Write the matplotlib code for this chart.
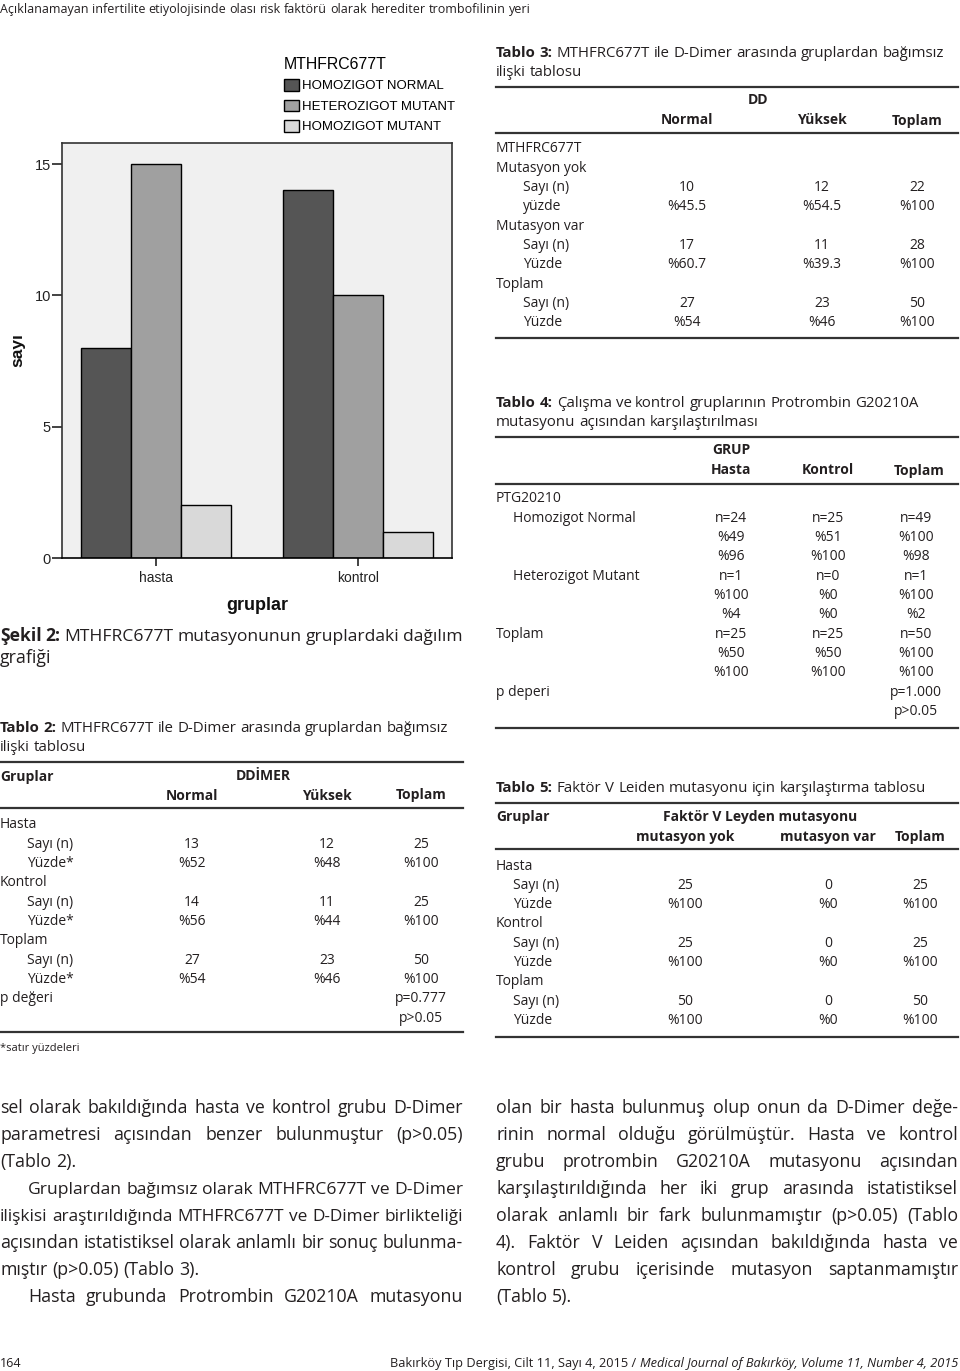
import matplotlib
matplotlib.use('Agg')
import matplotlib.pyplot as plt
from matplotlib.lines import Line2D
import numpy as np

W, H = 960, 1371
FONT = 'Open Sans'
CFONT = 'Liberation Sans'
INK = '#231f20'

# ---------------- chart data ----------------
groups = ['hasta', 'kontrol']
genotypes = ['HOMOZIGOT NORMAL', 'HETEROZIGOT MUTANT', 'HOMOZIGOT MUTANT']
homozigot_normal = [8, 14]
heterozigot_mutant = [15, 10]
homozigot_mutant = [2, 1]
y_ticks = [0, 5, 10, 15]
bar_colors = ['#555555', '#a0a0a0', '#d9d9d9']

# ---------------- table data ----------------
t2_cols = ['Normal', 'Yüksek', 'Toplam']
t2_rows = [
    ('Hasta', 0, None),
    ('Sayı (n)', 1, ['13', '12', '25']),
    ('Yüzde*', 1, ['%52', '%48', '%100']),
    ('Kontrol', 0, None),
    ('Sayı (n)', 1, ['14', '11', '25']),
    ('Yüzde*', 1, ['%56', '%44', '%100']),
    ('Toplam', 0, None),
    ('Sayı (n)', 1, ['27', '23', '50']),
    ('Yüzde*', 1, ['%54', '%46', '%100']),
    ('p değeri', 0, [None, None, 'p=0.777']),
    ('', 0, [None, None, 'p>0.05']),
]
t3_cols = ['Normal', 'Yüksek', 'Toplam']
t3_rows = [
    ('MTHFRC677T', 0, None),
    ('Mutasyon yok', 0, None),
    ('Sayı (n)', 1, ['10', '12', '22']),
    ('yüzde', 1, ['%45.5', '%54.5', '%100']),
    ('Mutasyon var', 0, None),
    ('Sayı (n)', 1, ['17', '11', '28']),
    ('Yüzde', 1, ['%60.7', '%39.3', '%100']),
    ('Toplam', 0, None),
    ('Sayı (n)', 1, ['27', '23', '50']),
    ('Yüzde', 1, ['%54', '%46', '%100']),
]
t4_cols = ['Hasta', 'Kontrol', 'Toplam']
t4_rows = [
    ('PTG20210', 0, None),
    ('Homozigot Normal', 1, ['n=24', 'n=25', 'n=49']),
    ('', 1, ['%49', '%51', '%100']),
    ('', 1, ['%96', '%100', '%98']),
    ('Heterozigot Mutant', 1, ['n=1', 'n=0', 'n=1']),
    ('', 1, ['%100', '%0', '%100']),
    ('', 1, ['%4', '%0', '%2']),
    ('Toplam', 0, ['n=25', 'n=25', 'n=50']),
    ('', 0, ['%50', '%50', '%100']),
    ('', 0, ['%100', '%100', '%100']),
    ('p deperi', 0, [None, None, 'p=1.000']),
    ('', 0, [None, None, 'p>0.05']),
]
t5_cols = ['mutasyon yok', 'mutasyon var', 'Toplam']
t5_rows = [
    ('Hasta', 0, None),
    ('Sayı (n)', 1, ['25', '0', '25']),
    ('Yüzde', 1, ['%100', '%0', '%100']),
    ('Kontrol', 0, None),
    ('Sayı (n)', 1, ['25', '0', '25']),
    ('Yüzde', 1, ['%100', '%0', '%100']),
    ('Toplam', 0, None),
    ('Sayı (n)', 1, ['50', '0', '50']),
    ('Yüzde', 1, ['%100', '%0', '%100']),
]

# ---------------- body text ----------------
left_body = [
    ('sel olarak bakıldığında hasta ve kontrol grubu D-Dimer', 0, True),
    ('parametresi açısından benzer bulunmuştur (p>0.05)', 0, True),
    ('(Tablo 2).', 0, False),
    ('Gruplardan bağımsız olarak MTHFRC677T ve D-Dimer', 1, True),
    ('ilişkisi araştırıldığında MTHFRC677T ve D-Dimer birlikteliği', 0, True),
    ('açısından istatistiksel olarak anlamlı bir sonuç bulunma-', 0, True),
    ('mıştır (p>0.05) (Tablo 3).', 0, False),
    ('Hasta grubunda Protrombin G20210A mutasyonu', 1, True),
]
right_body = [
    ('olan bir hasta bulunmuş olup onun da D-Dimer değe-', 0, True),
    ('rinin normal olduğu görülmüştür. Hasta ve kontrol', 0, True),
    ('grubu protrombin G20210A mutasyonu açısından', 0, True),
    ('karşılaştırıldığında her iki grup arasında istatistiksel', 0, True),
    ('olarak anlamlı bir fark bulunmamıştır (p>0.05) (Tablo', 0, True),
    ('4). Faktör V Leiden açısından bakıldığında hasta ve', 0, True),
    ('kontrol grubu içerisinde mutasyon saptanmamıştır', 0, True),
    ('(Tablo 5).', 0, False),
]
footer_tr = 'Bakırköy Tıp Dergisi, Cilt 11, Sayı 4, 2015 / '
footer_en = 'Medical Journal of Bakırköy, Volume 11, Number 4, 2015'

fig = plt.figure(figsize=(W / 100, H / 100), dpi=100)
fig.patch.set_facecolor('white')
R = fig.canvas.get_renderer()


def fx(x):
    return x / W


def fy(y):
    return 1 - y / H


def put(s, x, y, size=10, weight='normal', ha='left', family=FONT,
        style='normal', color=INK):
    return fig.text(fx(x), fy(y), s, fontsize=size, fontweight=weight, ha=ha,
                    va='baseline', family=family, style=style, color=color)


def wid(t):
    return t.get_window_extent(R).width


def space_w(size, family=FONT):
    a = put('n n', 0, 0, size=size, family=family)
    b = put('nn', 0, 0, size=size, family=family)
    s = wid(a) - wid(b)
    a.remove()
    b.remove()
    return s


def runs_line(runs, x0, y, x1=None, justify=False, size=10, min_gap=0.75):
    words = []
    for txt, wt, st in runs:
        for w in txt.split():
            words.append((w, wt, st))
    s = size
    while True:
        ts = [put(w, 0, 0, size=s, weight=wt, style=st) for w, wt, st in words]
        ws = [wid(t) for t in ts]
        sp = space_w(s)
        if x1 is None or s < 6:
            break
        if sum(ws) + min_gap * sp * (len(ws) - 1) <= (x1 - x0):
            break
        for t in ts:
            t.remove()
        s *= 0.985
    if justify and x1 is not None and len(ws) > 1:
        gap = (x1 - x0 - sum(ws)) / (len(ws) - 1)
    else:
        gap = sp
    x = x0
    for t, w in zip(ts, ws):
        t.set_position((fx(x), fy(y)))
        x += w + gap
    return x - gap


def rule(x0, x1, y, lw=1.6):
    fig.add_artist(Line2D([fx(x0), fx(x1)], [fy(y), fy(y)], color='#333333',
                          lw=lw, transform=fig.transFigure))


def draw_table(rows, col_x, x_label, x_indent, y0, step, size=10):
    for i, (lab, ind, vals) in enumerate(rows):
        yb = y0 + i * step + 4.5
        if lab:
            put(lab, x_indent if ind else x_label, yb, size=size)
        if vals:
            for v, cx in zip(vals, col_x):
                if v is not None:
                    put(v, cx, yb, size=size, ha='center')


# ---------------- page header ----------------
runs_line([('Açıklanamayan infertilite etiyolojisinde olası risk faktörü olarak herediter trombofilinin yeri',
            'normal', 'normal')], 0, 13, size=9)

# ---------------- chart ----------------
ax = fig.add_axes([fx(62), fy(558), (452 - 62) / W, (558 - 143) / H])
xpos = np.arange(len(groups))
bw = 0.246
series = [homozigot_normal, heterozigot_mutant, homozigot_mutant]
for i, (vals, c, lab) in enumerate(zip(series, bar_colors, genotypes)):
    ax.bar(xpos + (i - 1) * bw, vals, bw, color=c, edgecolor='black',
           linewidth=1.0, label=lab, zorder=2)
ax.set_xlim(-0.465, 1.465)
ax.set_ylim(0, 15.8)
ax.set_facecolor('#f0f0f0')
ax.set_yticks(y_ticks)
ax.set_xticks(xpos, groups)
ax.tick_params(axis='y', length=7, width=1.2, pad=1, labelsize=10.5,
               labelfontfamily=CFONT, colors='#222222')
ax.tick_params(axis='x', length=6, width=1.2, pad=3, labelsize=10,
               labelfontfamily=CFONT, colors='#222222')
for sp in ax.spines.values():
    sp.set_color('#333333')
    sp.set_linewidth(1.2)
ax.spines['bottom'].set_color('black')
ax.set_ylabel('sayı', fontsize=12.5, fontweight='bold', family=CFONT,
              va='center', color='#111111')
ax.yaxis.set_label_coords((18 - 62) / 390, 0.5)
ax.set_xlabel('gruplar', fontsize=13, fontweight='bold', family=CFONT,
              va='center', color='#111111')
ax.xaxis.set_label_coords(0.5, (558 - 605) / 415)

h, l = ax.get_legend_handles_labels()
fig.legend(h, l, loc='upper left', bbox_to_anchor=(fx(284), fy(57)),
           frameon=False, title='MTHFRC677T', alignment='left',
           prop={'family': CFONT, 'size': 9.5},
           title_fontproperties={'family': CFONT, 'size': 11.4},
           handlelength=1.15, handleheight=0.95, handletextpad=0.2,
           labelspacing=0.55, borderpad=0, borderaxespad=0)

# ---------------- Şekil 2 caption ----------------
runs_line([('Şekil 2:', 'bold', 'normal'),
           ('MTHFRC677T mutasyonunun gruplardaki dağılım', 'normal', 'normal')],
          0, 641, x1=463, justify=True, size=12.8)
runs_line([('grafiği', 'normal', 'normal')], 0, 663, size=12.8)

# ---------------- Tablo 2 ----------------
runs_line([('Tablo 2:', 'bold', 'normal'),
           ('MTHFRC677T ile D-Dimer arasında gruplardan bağımsız', 'normal', 'normal')],
          0, 732, size=10.8)
runs_line([('ilişki tablosu', 'normal', 'normal')], 0, 751, size=10.8)
rule(0, 463, 762)
put('Gruplar', 0, 780.5, weight='bold')
put('DDİMER', 263, 780.5, weight='bold', ha='center')
for c, cx in zip(t2_cols, [192, 327, 421]):
    put(c, cx, 799.5, weight='bold', ha='center')
rule(0, 463, 808)
draw_table(t2_rows, [192, 327, 421], 0, 27, 824, 19.3)
rule(0, 463, 1032)
put('*satır yüzdeleri', 0, 1051, size=8)

# ---------------- Tablo 3 ----------------
runs_line([('Tablo 3:', 'bold', 'normal'),
           ('MTHFRC677T ile D-Dimer arasında gruplardan bağımsız', 'normal', 'normal')],
          496, 57, size=10.8)
runs_line([('ilişki tablosu', 'normal', 'normal')], 496, 76, size=10.8)
rule(496, 958, 87)
put('DD', 758, 104.5, weight='bold', ha='center')
for c, cx in zip(t3_cols, [687, 822, 917]):
    put(c, cx, 124.5, weight='bold', ha='center')
rule(496, 958, 133)
draw_table(t3_rows, [687, 822, 917], 496, 523, 148, 19.3)
rule(496, 958, 338)

# ---------------- Tablo 4 ----------------
runs_line([('Tablo 4:', 'bold', 'normal'),
           ('Çalışma ve kontrol gruplarının Protrombin G20210A', 'normal', 'normal')],
          496, 407, size=10.8)
runs_line([('mutasyonu açısından karşılaştırılması', 'normal', 'normal')], 496, 426, size=10.8)
rule(496, 958, 437)
put('GRUP', 731, 454.5, weight='bold', ha='center')
for c, cx in zip(t4_cols, [731, 828, 919]):
    put(c, cx, 474.5, weight='bold', ha='center')
rule(496, 958, 484)
draw_table(t4_rows, [731, 828, 916], 496, 513, 498, 19.3)
rule(496, 958, 728)

# ---------------- Tablo 5 ----------------
runs_line([('Tablo 5:', 'bold', 'normal'),
           ('Faktör V Leiden mutasyonu için karşılaştırma tablosu', 'normal', 'normal')],
          496, 792, size=10.8)
rule(496, 958, 803)
put('Gruplar', 496, 821.5, weight='bold')
put('Faktör V Leyden mutasyonu', 760, 821.5, weight='bold', ha='center')
for c, cx in zip(t5_cols, [685, 828, 920]):
    put(c, cx, 841.5, weight='bold', ha='center')
rule(496, 958, 849)
draw_table(t5_rows, [685, 828, 920], 496, 513, 865, 19.3)
rule(496, 958, 1037)

# ---------------- body text ----------------
for i, (txt, ind, just) in enumerate(left_body):
    yb = 1113 + i * 27
    runs_line([(txt, 'normal', 'normal')], 28 if ind else 0, yb,
              x1=463 if just else None, justify=just, size=12.8)
for i, (txt, ind, just) in enumerate(right_body):
    yb = 1113 + i * 27
    runs_line([(txt, 'normal', 'normal')], 496 + (28 if ind else 0), yb,
              x1=958 if just else None, justify=just, size=12.8)

# ---------------- footer ----------------
put('164', 0, 1367, size=9)
fsize = 9.2
t_en = put(footer_en, 958, 1367, size=fsize, ha='right', style='italic')
t_tr = put(footer_tr, 958 - wid(t_en), 1367, size=fsize, ha='right')

fig.savefig('out.png', dpi=100)
